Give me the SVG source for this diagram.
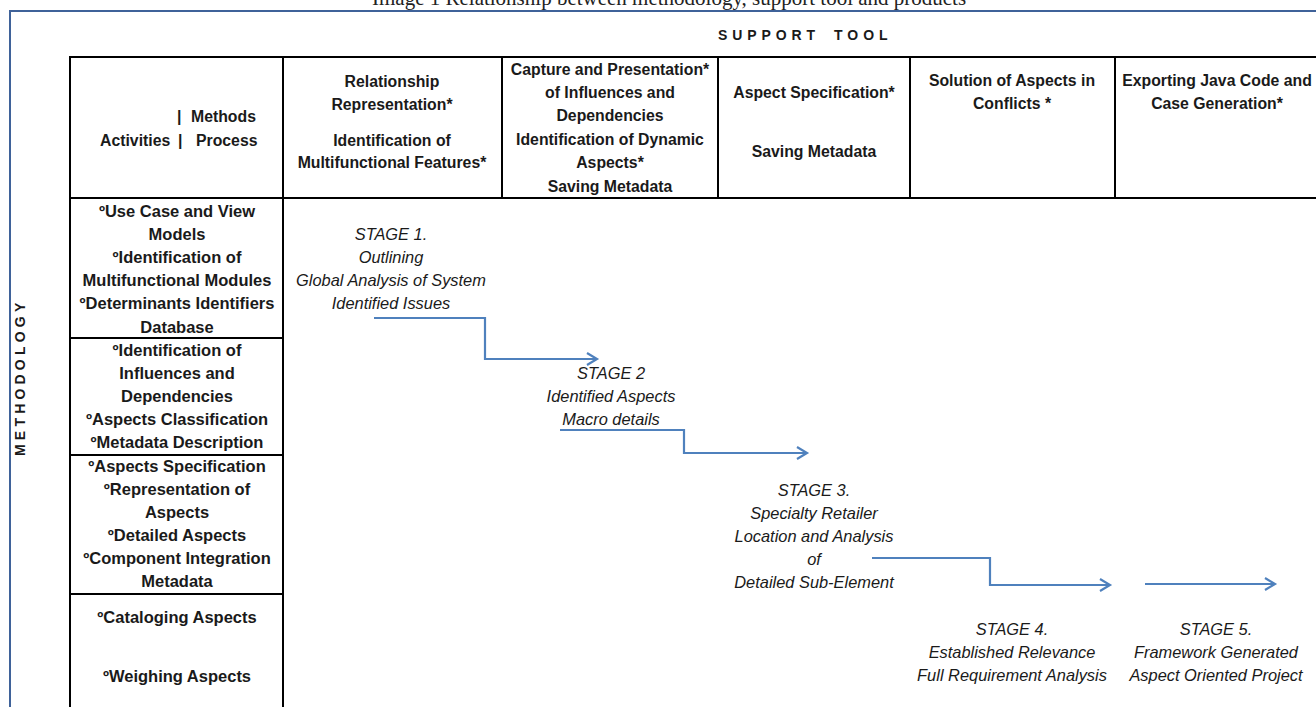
<svg xmlns="http://www.w3.org/2000/svg" width="1316" height="707" viewBox="0 0 1316 707">
<defs>
<style>
.cap{font-family:"Liberation Serif",serif;font-size:21px;fill:#222}
.hdr{font-family:"Liberation Sans",Arial,sans-serif;font-weight:bold;font-size:15.8px;fill:#1a1a1a;text-anchor:middle}
.hdl{font-family:"Liberation Sans",Arial,sans-serif;font-weight:bold;font-size:15.8px;fill:#1a1a1a}
.act{font-family:"Liberation Sans",Arial,sans-serif;font-weight:bold;font-size:16.5px;fill:#1a1a1a;text-anchor:middle}
.stg{font-family:"Liberation Sans",Arial,sans-serif;font-style:italic;font-size:16.4px;fill:#1a1a1a;text-anchor:middle}
.ttl{font-family:"Liberation Sans",Arial,sans-serif;font-weight:bold;font-size:14px;fill:#1a1a1a}
.grid{stroke:#000;stroke-width:2;fill:none}
.conn{stroke:#4f81bd;stroke-width:2.2;fill:none}
</style>
<marker id="arr" markerUnits="userSpaceOnUse" markerWidth="14" markerHeight="16" refX="11" refY="7" orient="auto">
<path d="M1,1 L11,7 L1,13" fill="none" stroke="#4f81bd" stroke-width="2.2"/>
</marker>
</defs>
<rect width="1316" height="707" fill="#fff"/>
<text class="cap" x="372" y="5">Image 1 Relationship between methodology, support tool and products</text>
<g id="frame">
<line x1="10" y1="11" x2="1316" y2="11" stroke="#3f6299" stroke-width="2"/>
<line x1="10" y1="10" x2="10" y2="707" stroke="#3f6299" stroke-width="2"/>
</g>
<g id="support-tool-title">
<text class="ttl" x="718" y="40" letter-spacing="4.9">SUPPORT</text>
<text class="ttl" x="834" y="40" letter-spacing="5">TOOL</text>
</g>
<g id="methodology-title">
<text class="ttl" x="0" y="0" font-size="13" letter-spacing="4.2" transform="translate(25,456) rotate(-90)">METHODOLOGY</text>
</g>
<g id="grid">
<line class="grid" x1="69" y1="57" x2="1316" y2="57"/>
<line class="grid" x1="69" y1="198" x2="1316" y2="198"/>
<line class="grid" x1="70" y1="56" x2="70" y2="707"/>
<line class="grid" x1="283" y1="56" x2="283" y2="707"/>
<line class="grid" x1="502" y1="56" x2="502" y2="198"/>
<line class="grid" x1="718" y1="56" x2="718" y2="198"/>
<line class="grid" x1="910" y1="56" x2="910" y2="198"/>
<line class="grid" x1="1115" y1="56" x2="1115" y2="198"/>
<line class="grid" x1="70" y1="338" x2="283" y2="338"/>
<line class="grid" x1="70" y1="455" x2="283" y2="455"/>
<line class="grid" x1="70" y1="594" x2="283" y2="594"/>
</g>
<g id="header-activities">
<text class="hdl" x="177" y="122">|</text>
<text class="hdl" x="191" y="122">Methods</text>
<text class="hdl" x="100" y="146">Activities</text>
<text class="hdl" x="178" y="146">|</text>
<text class="hdl" x="196" y="146">Process</text>
</g>
<g id="header-relationship">
<text class="hdr" x="392" y="87">Relationship</text>
<text class="hdr" x="392" y="110">Representation*</text>
<text class="hdr" x="392" y="146">Identification of</text>
<text class="hdr" x="392" y="168">Multifunctional Features*</text>
</g>
<g id="header-capture">
<text class="hdr" x="610" y="75">Capture and Presentation*</text>
<text class="hdr" x="610" y="98">of Influences and</text>
<text class="hdr" x="610" y="121">Dependencies</text>
<text class="hdr" x="610" y="145">Identification of Dynamic</text>
<text class="hdr" x="610" y="168">Aspects*</text>
<text class="hdr" x="610" y="192">Saving Metadata</text>
</g>
<g id="header-aspect-spec">
<text class="hdr" x="814" y="98">Aspect Specification*</text>
<text class="hdr" x="814" y="157">Saving Metadata</text>
</g>
<g id="header-solution">
<text class="hdr" x="1012" y="86">Solution of Aspects in</text>
<text class="hdr" x="1012" y="109">Conflicts *</text>
</g>
<g id="header-exporting">
<text class="hdr" x="1217" y="86">Exporting Java Code and</text>
<text class="hdr" x="1217" y="109">Case Generation*</text>
</g>
<g id="row1">
<text class="act" x="177" y="217">ºUse Case and View</text>
<text class="act" x="177" y="240">Models</text>
<text class="act" x="177" y="263">ºIdentification of</text>
<text class="act" x="177" y="286">Multifunctional Modules</text>
<text class="act" x="177" y="309">ºDeterminants Identifiers</text>
<text class="act" x="177" y="333">Database</text>
</g>
<g id="row2">
<text class="act" x="177" y="356">ºIdentification of</text>
<text class="act" x="177" y="379">Influences and</text>
<text class="act" x="177" y="402">Dependencies</text>
<text class="act" x="177" y="425">ºAspects Classification</text>
<text class="act" x="177" y="448">ºMetadata Description</text>
</g>
<g id="row3">
<text class="act" x="177" y="472">ºAspects Specification</text>
<text class="act" x="177" y="495">ºRepresentation of</text>
<text class="act" x="177" y="518">Aspects</text>
<text class="act" x="177" y="541">ºDetailed Aspects</text>
<text class="act" x="177" y="564">ºComponent Integration</text>
<text class="act" x="177" y="587">Metadata</text>
</g>
<g id="row4">
<text class="act" x="177" y="623">ºCataloging Aspects</text>
<text class="act" x="177" y="682">ºWeighing Aspects</text>
</g>
<g id="stage1">
<text class="stg" x="391" y="240">STAGE 1.</text>
<text class="stg" x="391" y="263">Outlining</text>
<text class="stg" x="391" y="286">Global Analysis of System</text>
<text class="stg" x="391" y="309">Identified Issues</text>
</g>
<g id="stage2">
<text class="stg" x="611" y="379">STAGE 2</text>
<text class="stg" x="611" y="402">Identified Aspects</text>
<text class="stg" x="611" y="425">Macro details</text>
</g>
<g id="stage3">
<text class="stg" x="814" y="496">STAGE 3.</text>
<text class="stg" x="814" y="519">Specialty Retailer</text>
<text class="stg" x="814" y="542">Location and Analysis</text>
<text class="stg" x="814" y="565">of</text>
<text class="stg" x="814" y="588">Detailed Sub-Element</text>
</g>
<g id="stage4">
<text class="stg" x="1012" y="635">STAGE 4.</text>
<text class="stg" x="1012" y="658">Established Relevance</text>
<text class="stg" x="1012" y="681">Full Requirement Analysis</text>
</g>
<g id="stage5">
<text class="stg" x="1216" y="635">STAGE 5.</text>
<text class="stg" x="1216" y="658">Framework Generated</text>
<text class="stg" x="1216" y="681">Aspect Oriented Project</text>
</g>
<g id="connectors">
<path class="conn" d="M374,318 H485 V359 H597" marker-end="url(#arr)"/>
<path class="conn" d="M560,430 H684 V453 H807" marker-end="url(#arr)"/>
<path class="conn" d="M872,558 H990 V585 H1110" marker-end="url(#arr)"/>
<path class="conn" d="M1145,584 H1275" marker-end="url(#arr)"/>
</g>
</svg>
